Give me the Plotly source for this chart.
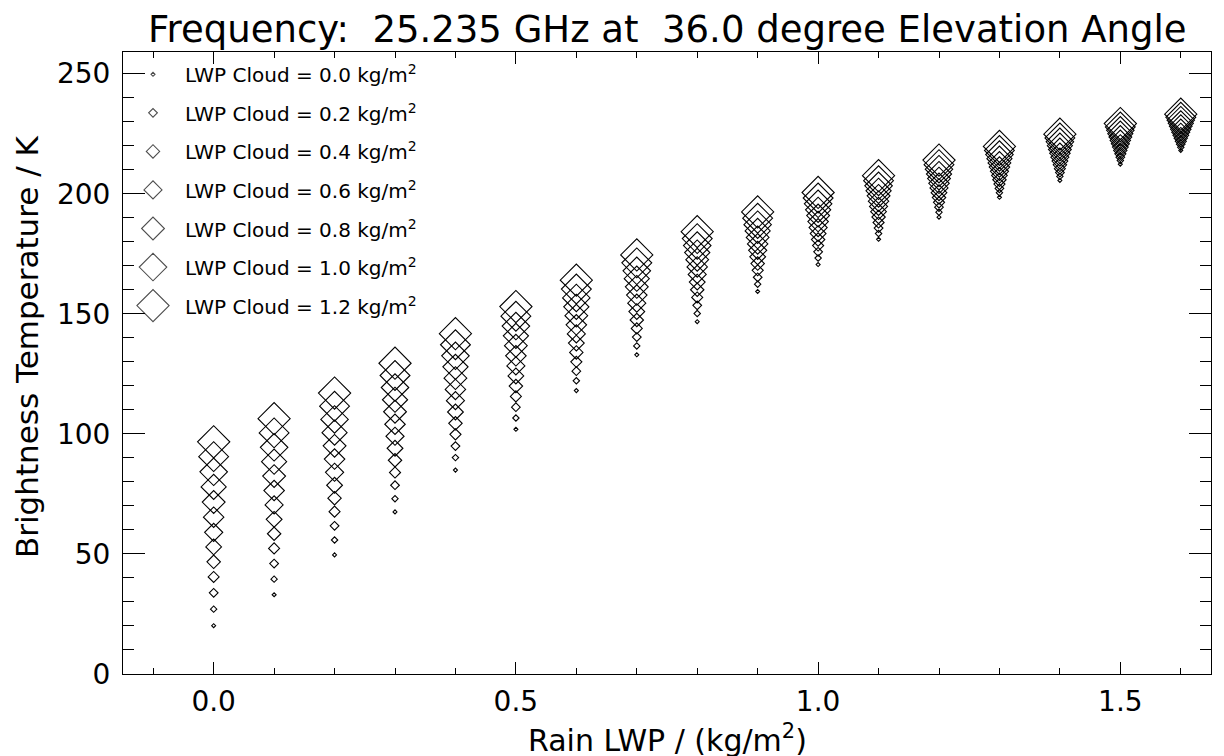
import plotly.graph_objects as go

# ---------------- data ----------------
rain_lwp = [0.0, 0.1, 0.2, 0.3, 0.4, 0.5, 0.6, 0.7, 0.8, 0.9, 1.0, 1.1, 1.2, 1.3, 1.4, 1.5, 1.6]
cloud_lwp = [0.0, 0.1, 0.2, 0.3, 0.4, 0.5, 0.6, 0.7, 0.8, 0.9, 1.0, 1.1, 1.2]

# brightness temperature (K) for each rain LWP, listed over cloud LWP 0.0 .. 1.2
tb_r00 = [20.1, 27.0, 33.8, 40.4, 46.7, 52.9, 59.0, 65.3, 71.6, 77.9, 84.2, 90.5, 96.7]
tb_r01 = [33.0, 39.5, 46.0, 52.3, 58.4, 64.4, 70.4, 76.4, 82.4, 88.4, 94.4, 100.4, 106.3]
tb_r02 = [49.6, 55.8, 61.7, 67.6, 73.2, 78.6, 84.0, 89.5, 95.0, 100.5, 106.0, 111.5, 117.0]
tb_r03 = [67.5, 73.0, 78.6, 83.9, 89.0, 94.0, 99.0, 104.0, 109.2, 114.2, 119.3, 124.3, 129.4]
tb_r04 = [84.9, 90.1, 94.9, 99.8, 104.4, 109.1, 113.8, 118.5, 123.2, 127.9, 132.5, 137.1, 141.7]
tb_r05 = [101.9, 106.6, 111.1, 115.6, 119.9, 124.1, 128.3, 132.5, 136.7, 140.8, 144.9, 149.0, 153.0]
tb_r06 = [118.0, 122.1, 126.1, 130.0, 133.9, 137.8, 141.6, 145.4, 149.2, 152.9, 156.6, 160.3, 164.0]
tb_r07 = [132.9, 136.6, 140.3, 143.9, 147.4, 150.9, 154.4, 157.8, 161.2, 164.6, 167.9, 171.2, 174.5]
tb_r08 = [146.7, 150.1, 153.5, 156.8, 160.0, 163.2, 166.4, 169.5, 172.5, 175.5, 178.4, 181.3, 184.2]
tb_r09 = [159.3, 162.3, 165.2, 168.1, 170.9, 173.7, 176.4, 179.1, 181.8, 184.5, 187.1, 189.8, 192.4]
tb_r10 = [170.5, 173.2, 175.8, 178.4, 180.9, 183.4, 185.9, 188.4, 190.9, 193.3, 195.8, 198.2, 200.5]
tb_r11 = [181.0, 183.4, 185.7, 188.0, 190.3, 192.5, 194.7, 196.9, 199.1, 201.2, 203.3, 205.4, 207.5]
tb_r12 = [190.2, 192.3, 194.4, 196.4, 198.4, 200.4, 202.4, 204.3, 206.3, 208.2, 210.2, 212.1, 214.0]
tb_r13 = [198.5, 200.4, 202.2, 204.0, 205.8, 207.6, 209.3, 211.1, 212.8, 214.6, 216.3, 218.0, 219.7]
tb_r14 = [205.5, 207.2, 208.8, 210.4, 212.0, 213.6, 215.2, 216.8, 218.4, 220.0, 221.6, 223.2, 224.8]
tb_r15 = [212.3, 213.8, 215.2, 216.6, 218.0, 219.4, 220.8, 222.2, 223.6, 225.0, 226.4, 227.8, 229.2]
tb_r16 = [218.0, 219.3, 220.6, 221.8, 223.1, 224.3, 225.6, 226.8, 228.1, 229.3, 230.6, 231.8, 233.1]

tb_columns = [tb_r00, tb_r01, tb_r02, tb_r03, tb_r04, tb_r05, tb_r06, tb_r07, tb_r08,
              tb_r09, tb_r10, tb_r11, tb_r12, tb_r13, tb_r14, tb_r15, tb_r16]

legend_levels = [0.0, 0.2, 0.4, 0.6, 0.8, 1.0, 1.2]

x_tick_vals = [0.0, 0.5, 1.0, 1.5]
y_tick_vals = [0, 50, 100, 150, 200, 250]

title_text = "Frequency:&nbsp; 25.235 GHz at&nbsp; 36.0 degree Elevation Angle"
x_title = "Rain LWP / (kg/m<sup>2</sup>)"
y_title = "Brightness Temperature / K"

# ---------------- style / layout ----------------
W, H = 1224, 756
OFF = 8                      # default page body margin
P_LEFT, P_TOP, P_RIGHT, P_BOTTOM = 123, 52, 1211, 674   # plot box on the page
PW, PH = P_RIGHT - P_LEFT, P_BOTTOM - P_TOP
ML, MT = P_LEFT - OFF, P_TOP - OFF
MR, MB = OFF + W - P_RIGHT, OFF + H - P_BOTTOM
FONT = "DejaVu Sans"


def paper_x(px):
    return (px - P_LEFT) / PW


def paper_y(py):
    return (P_BOTTOM - py) / PH


def diamond_size(level):
    # visible diamond width in px grows with cloud LWP; plotly diamond is 1.3*size wide
    width_px = 4.0 + 23.5 * level
    return width_px / 1.3


fig = go.Figure()

for j, lev in enumerate(cloud_lwp):
    fig.add_trace(go.Scatter(
        x=rain_lwp,
        y=[col[j] for col in tb_columns],
        mode="markers",
        marker=dict(symbol="diamond-open", size=diamond_size(lev), color="black",
                    line=dict(width=1.1, color="black")),
        showlegend=False,
        hoverinfo="x+y",
    ))

# hand-drawn legend on an overlay axis measured in pixels of the plot area
LEG_X = 30
LEG_TEXT_X = 60
LEG_Y0 = 22.3
LEG_DY = 38.55
fig.add_trace(go.Scatter(
    x=[LEG_X] * len(legend_levels),
    y=[LEG_Y0 + i * LEG_DY for i in range(len(legend_levels))],
    mode="markers",
    marker=dict(symbol="diamond-open", size=[diamond_size(l) for l in legend_levels],
                color="black", line=dict(width=1.1, color="black")),
    xaxis="x2", yaxis="y2", showlegend=False, hoverinfo="skip",
))
for i, lev in enumerate(legend_levels):
    fig.add_annotation(
        x=LEG_TEXT_X, y=LEG_Y0 + i * LEG_DY, xref="x2", yref="y2",
        text=f"LWP Cloud = {lev:.1f} kg/m<sup>2</sup>", showarrow=False,
        xanchor="left", yanchor="middle", font=dict(family=FONT, size=20, color="black"),
    )

# title and axis titles
fig.add_annotation(x=0.5, y=paper_y(29), xref="paper", yref="paper",
                   text=title_text, showarrow=False, xanchor="center", yanchor="middle",
                   font=dict(family=FONT, size=37, color="black"))
fig.add_annotation(x=0.5, y=paper_y(738), xref="paper", yref="paper",
                   text=x_title, showarrow=False, xanchor="center", yanchor="middle",
                   font=dict(family=FONT, size=30, color="black"))
fig.add_annotation(x=paper_x(27), y=paper_y(347), xref="paper", yref="paper",
                   text=y_title, showarrow=False, textangle=-90, xanchor="center", yanchor="middle",
                   font=dict(family=FONT, size=31, color="black"))

axis_common = dict(showgrid=False, zeroline=False, showline=True, linecolor="black", linewidth=1,
                   mirror="allticks", ticks="inside", tickcolor="black", tickwidth=1,
                   tickfont=dict(family=FONT, size=28, color="black"))

fig.update_layout(
    width=W, height=H,
    margin=dict(l=ML, r=MR, t=MT, b=MB),
    paper_bgcolor="white", plot_bgcolor="white",
    showlegend=False,
    xaxis=dict(range=[-0.15, 1.65], tickvals=x_tick_vals, ticktext=[f"{v:.1f}" for v in x_tick_vals],
               ticklen=12, ticklabelstandoff=2,
               minor=dict(dtick=0.1, tick0=0, ticks="inside", ticklen=6, tickcolor="black", tickwidth=1),
               **axis_common),
    yaxis=dict(range=[0, 259], tickvals=y_tick_vals, ticklen=22, ticklabelstandoff=6,
               minor=dict(dtick=10, tick0=0, ticks="inside", ticklen=11, tickcolor="black", tickwidth=1),
               **axis_common),
    xaxis2=dict(overlaying="x", range=[0, PW], visible=False, fixedrange=True),
    yaxis2=dict(overlaying="y", range=[PH, 0], visible=False, fixedrange=True),
)

fig.write_html("out.html")
